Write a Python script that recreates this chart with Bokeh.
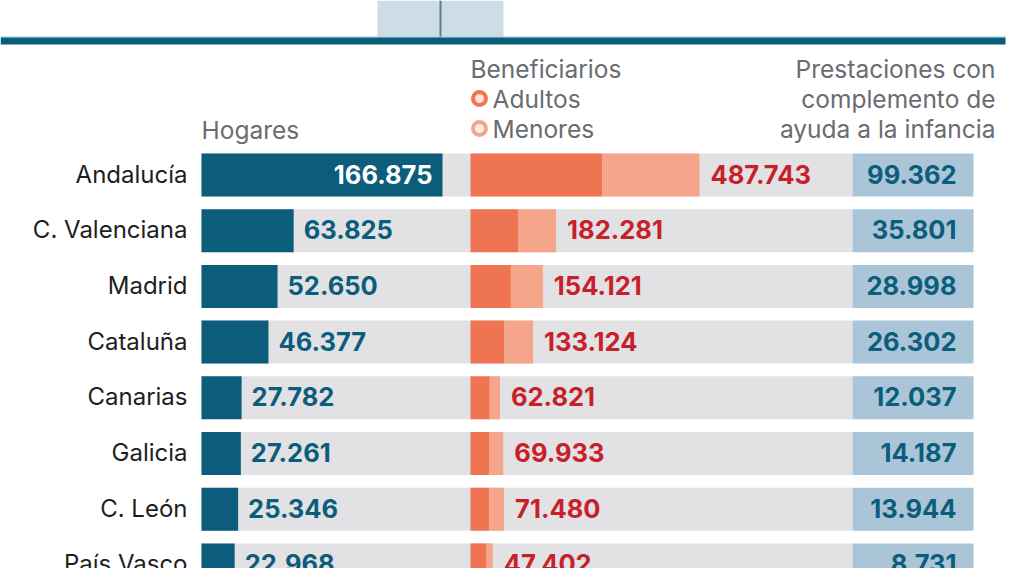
import numpy as np
from bokeh.plotting import figure
from bokeh.models import Range1d, ColumnDataSource
from bokeh.core.properties import value
from bokeh.embed import file_html
from bokeh.resources import INLINE

# ---------------- data ----------------
regions = ["Andalucía", "C. Valenciana", "Madrid", "Cataluña", "Canarias",
           "Galicia", "C. León", "País Vasco"]
hogares = [166875, 63825, 52650, 46377, 27782, 27261, 25346, 22968]
benef_total = [487743, 182281, 154121, 133124, 62821, 69933, 71480, 47402]
benef_adultos = [281000, 102300, 86000, 72000, 41000, 40500, 40000, 34000]
prestaciones = [99362, 35801, 28998, 26302, 12037, 14187, 13944, 8731]

hdr_hogares = "Hogares"
hdr_benef = "Beneficiarios"
legend_labels = ["Adultos", "Menores"]
hdr_prest = ["Prestaciones con", "complemento de", "ayuda a la infancia"]

def fmt(v):
    return f"{v:,}".replace(",", ".")

# ---------------- layout / styles ----------------
W, H = 1009, 568
FONT = "Inter"
TEAL = "#0b5d7b"
GREY_BG = "#e2e2e4"
LIGHT_BLUE = "#a9c5d7"
ORANGE = "#ef7452"
SALMON = "#f4a58a"
RED = "#c8202a"
HDR = "#696c70"
NUM_SIZE = "25.5px"
LAB_SIZE = "24px"
HDR_SIZE = "24.5px"

row0, pitch, bar_h = 174.5, 55.7, 43
hog_x0, hog_scale = 201, 241 / 166875
ben_x0, ben_scale = 470, 229 / 487743
grey_x1 = 852
pre_x0, pre_x1 = 852, 973

n = len(regions)
yc = row0 + pitch * np.arange(n)
hog = np.array(hogares, dtype=float)
btot = np.array(benef_total, dtype=float)
badu = np.array(benef_adultos, dtype=float)

p = figure(width=W, height=H, x_range=Range1d(0, W), y_range=Range1d(H, 0),
           output_backend="svg", toolbar_location=None, min_border=0)
p.axis.visible = False
p.grid.visible = False
p.outline_line_color = None
p.background_fill_color = "white"

# top decoration
p.quad(left=[377], right=[503], top=[0], bottom=[37], fill_color="#cddde7", line_color=None)
p.segment(x0=[440], x1=[440], y0=[0], y1=[37], line_color="#5d8093", line_width=2)
p.quad(left=[0], right=[1005], top=[36], bottom=[37], fill_color="#8fd3df", line_color=None)
p.quad(left=[0], right=[1005], top=[37], bottom=[44], fill_color="#0b5e7a", line_color=None)

# backgrounds
src = ColumnDataSource(dict(
    y=yc,
    top=yc - bar_h / 2, bot=yc + bar_h / 2,
    hog_r=hog_x0 + hog * hog_scale,
    adu_r=ben_x0 + badu * ben_scale,
    tot_r=ben_x0 + btot * ben_scale,
))
p.quad(left=hog_x0, right=grey_x1, top="top", bottom="bot", source=src,
       fill_color=GREY_BG, line_color=None)
p.quad(left=pre_x0, right=pre_x1, top="top", bottom="bot", source=src,
       fill_color=LIGHT_BLUE, line_color=None)

# bars
p.quad(left=hog_x0, right="hog_r", top="top", bottom="bot", source=src,
       fill_color=TEAL, line_color=None)
p.quad(left=ben_x0, right="adu_r", top="top", bottom="bot", source=src,
       fill_color=ORANGE, line_color=None)
p.quad(left="adu_r", right="tot_r", top="top", bottom="bot", source=src,
       fill_color=SALMON, line_color=None)

ty = yc - 1

# row labels
p.text(x=[187] * n, y=ty, text=regions, text_font=value(FONT), text_font_size=LAB_SIZE,
       text_align="right", text_baseline="middle", text_color="#1e1e1e")

# hogares labels
inside = hog * hog_scale > 150
hx = np.where(inside, hog_x0 + hog * hog_scale - 10, hog_x0 + hog * hog_scale + 10)
p.text(x=hx[inside], y=ty[inside], text=[fmt(v) for v, m in zip(hogares, inside) if m],
       text_font=value(FONT), text_font_size=NUM_SIZE, text_font_style="bold",
       text_align="right", text_baseline="middle", text_color="white")
p.text(x=hx[~inside], y=ty[~inside], text=[fmt(v) for v, m in zip(hogares, inside) if not m],
       text_font=value(FONT), text_font_size=NUM_SIZE, text_font_style="bold",
       text_align="left", text_baseline="middle", text_color=TEAL)

# beneficiarios labels
p.text(x=ben_x0 + btot * ben_scale + 11, y=ty, text=[fmt(v) for v in benef_total],
       text_font=value(FONT), text_font_size=NUM_SIZE, text_font_style="bold",
       text_align="left", text_baseline="middle", text_color=RED)

# prestaciones labels
p.text(x=[956] * n, y=ty, text=[fmt(v) for v in prestaciones],
       text_font=value(FONT), text_font_size=NUM_SIZE, text_font_style="bold",
       text_align="right", text_baseline="middle", text_color=TEAL)

# headers (vertically centred on their line positions)
p.text(x=[201], y=[129], text=[hdr_hogares], text_font=value(FONT), text_font_size=HDR_SIZE,
       text_align="left", text_baseline="middle", text_color=HDR)
p.text(x=[470], y=[68], text=[hdr_benef], text_font=value(FONT), text_font_size=HDR_SIZE,
       text_align="left", text_baseline="middle", text_color=HDR)
p.scatter(x=[479, 479], y=[98, 128], size=13, marker="circle",
          fill_color=["#fde3d9", "#fdeee8"], line_color=[ORANGE, SALMON], line_width=4)
p.text(x=[492, 492], y=[98, 128], text=legend_labels, text_font=value(FONT),
       text_font_size=HDR_SIZE, text_align="left", text_baseline="middle", text_color=HDR)
p.text(x=[995] * 3, y=[68, 98, 128], text=hdr_prest, text_font=value(FONT),
       text_font_size=HDR_SIZE, text_align="right", text_baseline="middle", text_color=HDR)

open("out.html", "w").write(file_html(p, INLINE))
